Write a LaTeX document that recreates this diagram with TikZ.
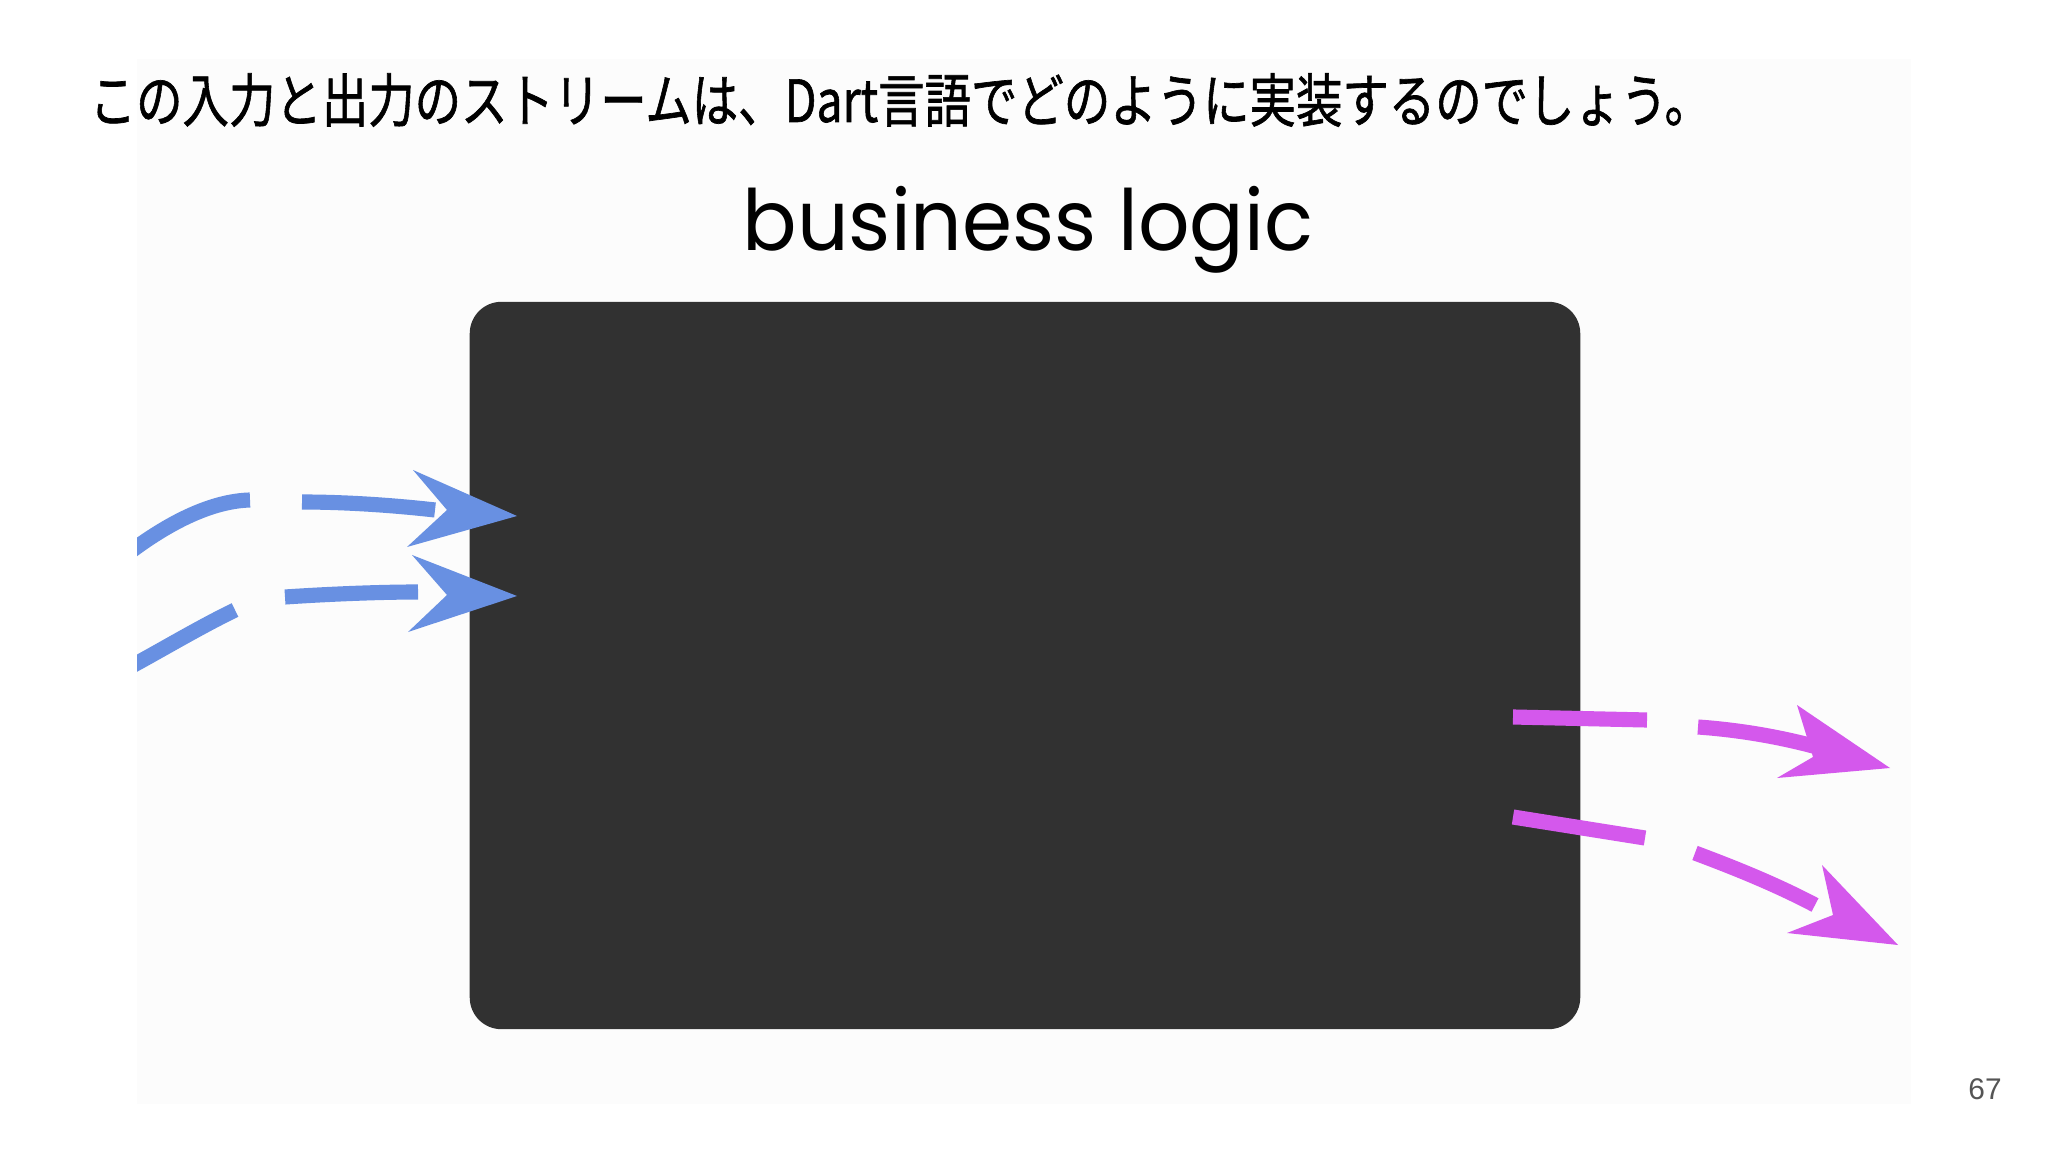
\documentclass[tikz,border=0pt]{standalone}
\usepackage{fontspec}
\usepackage{graphicx}
\setmainfont{Liberation Sans}
\newfontfamily\jpfont[FakeBold=1.2]{Noto Sans CJK JP}
\newfontfamily\blfont{Poppins}
\definecolor{boxdark}{RGB}{49,49,49}
\definecolor{inblue}{RGB}{104,144,226}
\definecolor{outmag}{RGB}{212,88,236}
\definecolor{pagegrey}{RGB}{85,85,85}
\definecolor{photobg}{RGB}{252,252,252}
\tikzset{
  dashseg/.style={line width=4.3pt, line cap=butt},
  inseg/.style={dashseg, draw=inblue},
  outseg/.style={dashseg, draw=outmag},
  inhead/.style={fill=inblue},
  outhead/.style={fill=outmag},
}
\begin{document}
\begin{tikzpicture}[x=0.01cm,y=-0.01cm]
\useasboundingbox (0,0) rectangle (2048,1152);
\fill[white] (0,0) rectangle (2048,1152);
% photo area
\fill[photobg] (137,59) rectangle (1911,1104);
% dark box
\node[draw=none, fill=boxdark, rounded corners=9pt, minimum width=1110*0.2845pt, minimum height=727*0.2845pt, inner sep=0pt] (logic) at (1025,665.5) {};
% heading
\node[anchor=west, inner sep=0pt] (heading) at (89,100) {\scalebox{0.80}[1]{\jpfont\fontsize{16.5pt}{18pt}\selectfont この入力と出力のストリームは、Dart言語でどのように実装するのでしょう。}};
% business logic label
\node[anchor=base west, inner sep=0pt] (bl) at (742,251) {\scalebox{0.956}[1]{\blfont\fontsize{24pt}{28pt}\selectfont business logic}};
% page number
\node[inner sep=0pt, text=pagegrey] (pg) at (1985,1089) {\fontsize{8.5pt}{10pt}\selectfont 67};
% input arrows
\begin{scope}
\clip (137,59) rectangle (1911,1104);
\coordinate (a1s) at (130,552);
\coordinate (a1e) at (250,500);
\coordinate (a1f) at (302,502);
\coordinate (a1g) at (435,510);
\coordinate (a2s) at (130,667);
\coordinate (a2e) at (235,610);
\coordinate (a2f) at (285,597);
\coordinate (a2g) at (418,592);
\draw[inseg] (a1s) .. controls (170,522) and (212,501) .. (a1e);
\draw[inseg] (a1f) .. controls (350,502) and (400,506) .. (a1g);
\draw[inseg] (a2s) .. controls (165,648) and (200,627) .. (a2e);
\draw[inseg] (a2f) .. controls (330,594) and (380,592) .. (a2g);
\end{scope}
\fill[inhead] (517,516) -- (413,470) -- (447,510) -- (407,547) -- cycle;
\fill[inhead] (517,596) -- (412,555) -- (447,595) -- (408,632) -- cycle;
% output arrows
\coordinate (b1s) at (1513,717);
\coordinate (b1e) at (1647,720);
\coordinate (b1f) at (1698,727);
\coordinate (b1g) at (1817,747);
\coordinate (b2s) at (1513,817);
\coordinate (b2e) at (1645,838);
\coordinate (b2f) at (1695,853);
\coordinate (b2g) at (1815,905);
\draw[outseg] (b1s) -- (b1e);
\draw[outseg] (b1f) .. controls (1740,730) and (1780,737) .. (b1g);
\draw[outseg] (b2s) -- (b2e);
\draw[outseg] (b2f) .. controls (1735,868) and (1775,884) .. (b2g);
\fill[outhead] (1890,768) -- (1797,705) -- (1813,757) -- (1777,778) -- cycle;
\fill[outhead] (1898,945) -- (1822,865) -- (1833,915) -- (1787,933) -- cycle;
\end{tikzpicture}
\end{document}
